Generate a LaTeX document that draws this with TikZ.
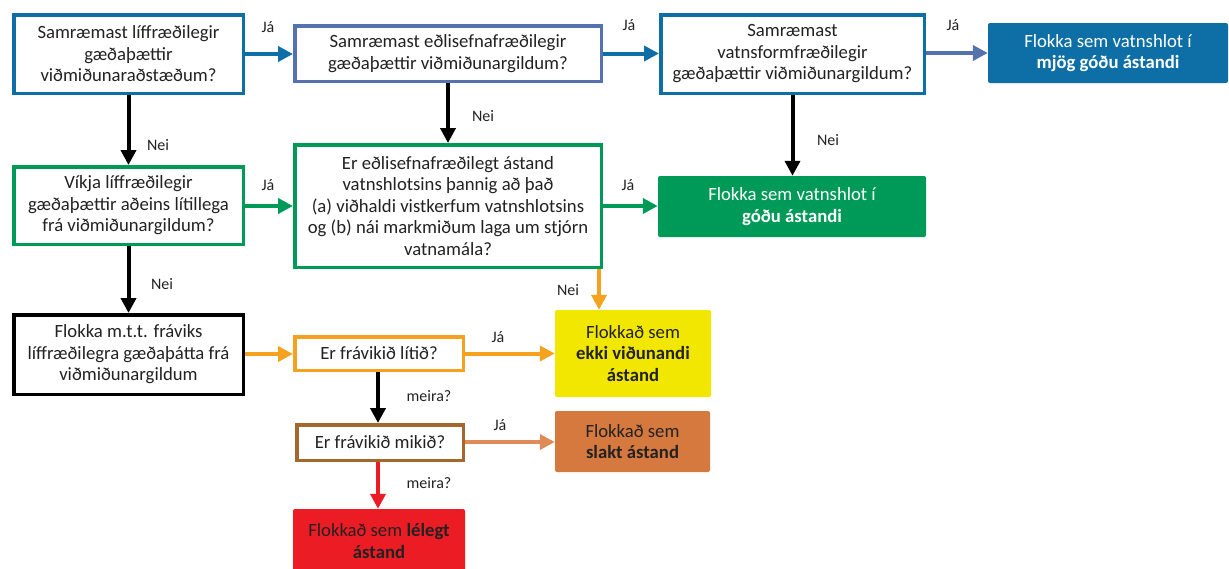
\documentclass[tikz,border=0pt]{standalone}
\usepackage{fontspec}
\setmainfont{Carlito}
\usetikzlibrary{arrows.meta}
\definecolor{blueA}{HTML}{0E6FA6}
\definecolor{blueB}{HTML}{5472AD}
\definecolor{grn}{HTML}{009A58}
\definecolor{org}{HTML}{F5A21E}
\definecolor{ylw}{HTML}{F2E700}
\definecolor{brn}{HTML}{A4682D}
\definecolor{slk}{HTML}{D6793F}
\definecolor{slkarr}{HTML}{DF8B57}
\definecolor{rd}{HTML}{EC1C24}
\definecolor{txt}{HTML}{222222}
\begin{document}
\begin{tikzpicture}[x=1pt,y=-1pt,
  box/.style={draw, line width=3.5pt, fill=white, align=center, inner sep=0pt,
    font=\fontsize{18.7}{21.5}\selectfont, text=txt},
  fbox/.style={rounded corners=2pt, align=center, inner sep=0pt,
    font=\fontsize{18.7}{21.5}\selectfont},
  lab/.style={font=\fontsize{16}{18}\selectfont, text=txt, inner sep=0pt},
  arr/.style={line width=4pt, -{Triangle[length=15pt,width=15pt]}}]
\useasboundingbox (0,0) rectangle (1229,568);

% nodes (outer size minus border width)
\node[box, draw=blueA, minimum width=229.5pt, minimum height=78.5pt] (A) at (128.5,54)
  {Samræmast líffræðilegir\\gæðaþættir\\viðmiðunaraðstæðum?};
\node[box, draw=blueB, minimum width=306.5pt, minimum height=55.5pt] (B) at (448,53.5)
  {Samræmast eðlisefnafræðilegir\\gæðaþættir viðmiðunargildum?};
\node[box, draw=blueA, minimum width=263.5pt, minimum height=78.5pt] (C) at (792.5,54)
  {Samræmast\\vatnsformfræðilegir\\gæðaþættir viðmiðunargildum?};
\node[fbox, fill=blueA, text=white, minimum width=240pt, minimum height=60pt] (D) at (1108,53)
  {Flokka sem vatnshlot í\\\textbf{mjög góðu ástandi}};

\node[box, draw=grn, minimum width=229.5pt, minimum height=77.5pt] (E) at (128.5,205.5)
  {Víkja líffræðilegir\\gæðaþættir aðeins lítillega\\frá viðmiðunargildum?};
\node[box, draw=grn, minimum width=306.5pt, minimum height=122.5pt] (F) at (448,206)
  {Er eðlisefnafræðilegt ástand\\vatnshlotsins þannig að það\\(a) viðhaldi vistkerfum vatnshlotsins\\og (b) nái markmiðum laga um stjórn\\vatnamála?};
\node[fbox, fill=grn, text=white, minimum width=268pt, minimum height=61pt] (G) at (792,206.5)
  {Flokka sem vatnshlot í\\\textbf{góðu ástandi}};

\node[box, draw=black, minimum width=229.5pt, minimum height=79.5pt] (H) at (128.5,354.5)
  {Flokka m.t.t. fráviks\\líffræðilegra gæðaþátta frá\\viðmiðunargildum};
\node[box, draw=org, minimum width=168.5pt, minimum height=33.5pt] (I) at (379,353.5)
  {Er frávikið lítið?};
\node[fbox, fill=ylw, text=txt, minimum width=156pt, minimum height=87pt] (J) at (633,353.5)
  {Flokkað sem\\\textbf{ekki viðunandi}\\\textbf{ástand}};

\node[box, draw=brn, minimum width=166.5pt, minimum height=35.5pt] (K) at (380,442.5)
  {Er frávikið mikið?};
\node[fbox, fill=slk, text=txt, minimum width=155pt, minimum height=61pt] (L) at (632.5,441.5)
  {Flokkað sem\\\textbf{slakt ástand}};
\node[fbox, fill=rd, text=txt, minimum width=172pt, minimum height=64pt] (M) at (379,541)
  {Flokkað sem \textbf{lélegt}\\\textbf{ástand}};

% connectors
\draw[arr, blueA] (A.east |- 0,54) -- (B.west |- 0,54);
\draw[arr, blueA] (B.east) -- (B.east -| C.west);
\draw[arr, blueB] (C.east |- 0,53) -- (D.west);
\draw[arr, black] (A.south) -- (A.south |- E.north);
\draw[arr, black] (B.south) -- (B.south |- F.north);
\draw[arr, black] (C.south) -- (C.south |- G.north);
\draw[arr, grn] (E.east |- 0,206) -- (F.west |- 0,206);
\draw[arr, grn] (F.east |- 0,206) -- (G.west |- 0,206);
\draw[arr, black] (E.south) -- (E.south |- H.north);
\draw[arr, org] ([xshift=-4pt]F.south east) -- ([xshift=-4pt]F.south east |- J.north);
\draw[arr, org] (H.east |- 0,354) -- (I.west |- 0,354);
\draw[arr, org] (I.east) -- (I.east -| J.west);
\draw[arr, black] ([xshift=-1pt]I.south) -- ([xshift=-1pt]I.south |- K.north);
\draw[arr, slkarr] (K.east |- 0,442) -- (L.west |- 0,442);
\draw[arr, rd] ([xshift=-2pt]K.south) -- ([xshift=-2pt]K.south |- M.north);

% labels
\node[lab] (l1) at (268,27) {Já};
\node[lab] (l2) at (629,25) {Já};
\node[lab] (l3) at (953,25) {Já};
\node[lab] (l4) at (158,145) {Nei};
\node[lab] (l5) at (483,116) {Nei};
\node[lab] (l6) at (828,140) {Nei};
\node[lab] (l7) at (268,185) {Já};
\node[lab] (l8) at (628,185) {Já};
\node[lab] (l9) at (162,284) {Nei};
\node[lab] (l10) at (568,290) {Nei};
\node[lab] (l11) at (498,337) {Já};
\node[lab] (l12) at (429,396) {meira?};
\node[lab] (l13) at (500,425) {Já};
\node[lab] (l14) at (429,483) {meira?};
\end{tikzpicture}
\end{document}
